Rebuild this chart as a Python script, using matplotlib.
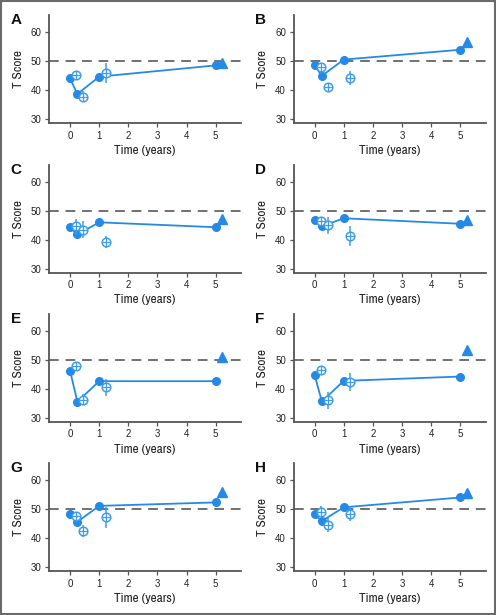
import matplotlib
matplotlib.use('Agg')
import matplotlib.pyplot as plt
from matplotlib.patches import Rectangle
from matplotlib import font_manager as fm

cond = [f for f in fm.fontManager.ttflist if f.stretch in ('condensed', 'semi-condensed', 'extra-condensed') or 'Narrow' in f.name or 'Condensed' in f.name]
if any('Narrow' in f.name for f in cond):
    fam = [next(f.name for f in cond if 'Narrow' in f.name), 'DejaVu Sans']
    stretch = 'normal'
elif cond:
    fam = [cond[0].name, 'DejaVu Sans']
    stretch = 'condensed'
else:
    fam = ['Liberation Sans', 'DejaVu Sans']
    stretch = 'normal'
plt.rcParams['font.family'] = fam
plt.rcParams['font.stretch'] = stretch

panel_labels = ['A', 'B', 'C', 'D', 'E', 'F', 'G', 'H']
t_solid = [0, 0.25, 1, 5]
t_open = [0.22, 0.45, 1.22]
t_ref = 5.22
x_ticks = [0, 1, 2, 3, 4, 5]
y_ticks = [30, 40, 50, 60]
reference_score = 50

solid_scores = [
    [44.1, 38.7, 44.7, 48.6],
    [48.6, 45.0, 50.6, 54.0],
    [44.4, 41.9, 46.1, 44.4],
    [46.8, 44.7, 47.5, 45.6],
    [46.3, 35.6, 42.7, 42.7],
    [44.8, 35.7, 42.8, 44.3],
    [48.3, 45.7, 51.2, 52.4],
    [48.3, 46.0, 50.7, 54.1],
]
solid_err = [
    [0.8, 1.0, 1.0, 0.8],
    [0.8, 1.0, 0.8, 0.8],
    [0.8, 1.0, 0.8, 0.8],
    [0.8, 1.0, 0.8, 0.8],
    [0.8, 1.0, 0.8, 0.8],
    [0.8, 1.0, 1.0, 0.8],
    [0.8, 1.0, 0.8, 0.8],
    [0.8, 1.0, 0.8, 1.0],
]
open_scores = [
    [45.4, 37.8, 45.9],
    [47.9, 41.1, 44.3],
    [44.7, 43.6, 39.2],
    [46.6, 45.0, 41.4],
    [48.0, 36.3, 40.6],
    [46.5, 36.1, 42.4],
    [47.7, 42.6, 47.2],
    [49.2, 44.6, 48.4],
]
open_err = [
    [1.0, 1.8, 3.4],
    [1.2, 1.5, 2.5],
    [2.5, 3.0, 2.0],
    [1.5, 3.0, 3.5],
    [1.0, 2.0, 3.0],
    [1.0, 3.0, 3.0],
    [1.0, 2.0, 3.5],
    [2.0, 2.5, 2.5],
]
ref_scores = [49.3, 56.6, 47.3, 46.9, 51.1, 53.6, 56.0, 55.6]

BLUE = '#2589e6'
LBLUE = '#3f9cec'
AX = '#555555'

fig = plt.figure(figsize=(4.96, 6.15), dpi=100)

lefts = [0.099, 0.592]
width = 0.387
bottoms = [0.800, 0.5566, 0.3143, 0.0715]
height = 0.1756

for i, lab in enumerate(panel_labels):
    r, c = divmod(i, 2)
    ax = fig.add_axes([lefts[c], bottoms[r], width, height])
    ax.set_xlim(-0.72, 5.87)
    ax.set_ylim(28.7, 66)
    ax.axhline(reference_score, color='#707070', lw=1.4, dashes=(5, 3.5), zorder=1)

    ax.errorbar(t_solid, solid_scores[i], yerr=solid_err[i], fmt='-o', color=BLUE,
                ms=5.5, lw=1.3, elinewidth=1.1, capsize=0, zorder=3)
    ax.errorbar(t_open, open_scores[i], yerr=open_err[i], fmt='none', ecolor=LBLUE,
                elinewidth=1.1, capsize=0, zorder=4)
    ax.plot(t_open, open_scores[i], linestyle='none', marker='o', ms=6.2,
            mfc='white', mec=LBLUE, mew=1.1, zorder=5)
    ax.plot(t_open, open_scores[i], linestyle='none', marker='+', ms=6.2,
            mec=LBLUE, mew=0.9, zorder=6)
    ax.plot([t_ref], [ref_scores[i]], linestyle='none', marker='^', ms=6.8,
            color=BLUE, zorder=5)

    for s in ['top', 'right']:
        ax.spines[s].set_visible(False)
    for s in ['left', 'bottom']:
        ax.spines[s].set_color(AX)
        ax.spines[s].set_linewidth(1.3)
    ax.set_xticks(x_ticks)
    ax.set_yticks(y_ticks)
    ax.tick_params(axis='both', colors=AX, labelcolor='#222222', labelsize=7,
                   length=3, width=0.9, pad=2.5)
    for tl in ax.get_xticklabels() + ax.get_yticklabels():
        tl.set_family(['Liberation Sans', 'DejaVu Sans'])
        tl.set_stretch('normal')
    ax.set_xlabel('Time (years)', fontsize=9.5, color='#222222', labelpad=3)
    ax.set_ylabel('T Score', fontsize=9.5, color='#222222', labelpad=5)
    ax.text(-0.20, 1.02, lab, transform=ax.transAxes, fontsize=11, fontweight='bold',
            family=['Liberation Sans', 'DejaVu Sans'], stretch='normal',
            va='top', ha='left', color='#111111')

fig.patches.append(Rectangle((0.002, 0.002), 0.995, 0.996, transform=fig.transFigure,
                             fill=False, edgecolor='#6a6a6a', linewidth=1.5))

fig.savefig('out.png', dpi=100)
